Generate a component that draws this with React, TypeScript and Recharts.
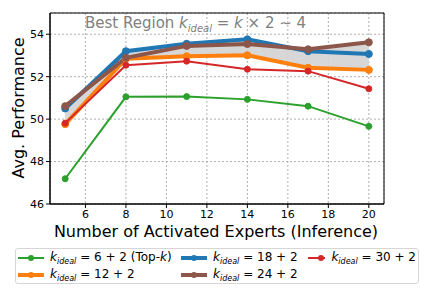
import {
  ComposedChart,
  Line,
  Area,
  XAxis,
  YAxis,
  CartesianGrid,
  Legend,
  ReferenceArea,
} from 'recharts'

const experts = [5, 8, 11, 14, 17, 20]
const k6 = [47.19, 51.05, 51.06, 50.93, 50.61, 49.66]
const k12 = [49.76, 52.85, 52.96, 53.01, 52.42, 52.32]
const k18 = [50.5, 53.2, 53.55, 53.76, 53.2, 53.07]
const k24 = [50.61, 52.89, 53.45, 53.54, 53.29, 53.62]
const k30 = [49.81, 52.54, 52.73, 52.35, 52.26, 51.43]

const xTicks = [6, 8, 10, 12, 14, 16, 18, 20]
const yTicks = [46, 48, 50, 52, 54]

const FONT = '"DejaVu Sans", sans-serif'

const SERIES = [
  { key: 'k6', label: '6 + 2 (Top-', topK: true, color: '#2ca02c', width: 2 },
  { key: 'k12', label: '12 + 2', topK: false, color: '#ff7f0e', width: 4 },
  { key: 'k18', label: '18 + 2', topK: false, color: '#1f77b4', width: 4 },
  { key: 'k24', label: '24 + 2', topK: false, color: '#8c564b', width: 4 },
  { key: 'k30', label: '30 + 2', topK: false, color: '#d62728', width: 2 },
]

const data = experts.map((x, i) => ({
  x,
  k6: k6[i],
  k12: k12[i],
  k18: k18[i],
  k24: k24[i],
  k30: k30[i],
  // shaded band spans the three larger configs
  band: [Math.min(k12[i], k18[i], k24[i]), Math.max(k12[i], k18[i], k24[i])],
}))

function Kideal() {
  return (
    <>
      <i>k</i>
      <sub style={{ fontSize: 8, fontStyle: 'italic', verticalAlign: '-3px' }}>ideal</sub>
      {' = '}
    </>
  )
}

function LegendBox() {
  // matplotlib fills the 3 columns column-wise
  const cols = [
    [SERIES[0], SERIES[1]],
    [SERIES[2], SERIES[3]],
    [SERIES[4]],
  ]
  const widths = [163, 127, 108]
  return (
    <div
      style={{
        boxSizing: 'border-box',
        width: 404,
        height: 36,
        border: '1px solid #d6d6d6',
        borderRadius: 3,
        display: 'flex',
        padding: '0 0 0 2px',
        fontFamily: FONT,
        fontSize: 12,
        color: '#000',
      }}
    >
      {cols.map((col, ci) => (
        <div key={ci} style={{ width: widths[ci] }}>
          {col.map((s) => (
            <div
              key={s.key}
              style={{ height: 17, display: 'flex', alignItems: 'center', whiteSpace: 'nowrap' }}
            >
              <svg width={26} height={10} style={{ marginRight: 6 }}>
                <line x1={0} y1={5} x2={26} y2={5} stroke={s.color} strokeWidth={s.width} />
                <circle cx={13} cy={5} r={3} fill={s.color} />
              </svg>
              <span>
                <Kideal />
                {s.label}
                {s.topK && (
                  <>
                    <i>k</i>)
                  </>
                )}
              </span>
            </div>
          ))}
        </div>
      ))}
    </div>
  )
}

export default function App() {
  return (
    <div style={{ position: 'absolute', left: 0, top: 0, background: '#fff' }}>
      <ComposedChart
        width={429}
        height={307}
        data={data}
        margin={{ top: 13, right: 45, bottom: 25, left: 0 }}
        style={{ fontFamily: FONT }}
      >
        <CartesianGrid stroke="#b0b0b0" strokeDasharray="2 2" />
        <XAxis
          dataKey="x"
          type="number"
          domain={[4.25, 20.75]}
          ticks={xTicks}
          allowDataOverflow
          height={42}
          tickSize={4}
          tickMargin={2}
          tick={{ fontSize: 11, fill: '#000' }}
          stroke="#000"
        />
        <YAxis
          type="number"
          domain={[46, 55]}
          ticks={yTicks}
          allowDataOverflow
          width={50}
          tickSize={4}
          tickMargin={2}
          tick={{ fontSize: 11, fill: '#000' }}
          stroke="#000"
        />
        <ReferenceArea
          x1={4.25}
          x2={20.75}
          y1={46}
          y2={55}
          fill="none"
          stroke="#000"
          strokeOpacity={1}
          ifOverflow="visible"
        />
        <Area
          dataKey="band"
          fill="#d3d3d3"
          fillOpacity={0.9}
          stroke="none"
          legendType="none"
          isAnimationActive={false}
        />
        {SERIES.map((s) => (
          <Line
            key={s.key}
            dataKey={s.key}
            stroke={s.color}
            strokeWidth={s.width}
            dot={{ r: s.width > 2 ? 3.5 : 3, fill: s.color, stroke: s.color, strokeWidth: 1 }}
            isAnimationActive={false}
          />
        ))}
        <Legend
          content={() => <LegendBox />}
          wrapperStyle={{ left: 15, top: 248, width: 404, height: 36 }}
        />
        <text x={85} y={28} fill="#808080" fontSize={15} fontFamily={FONT}>
          Best Region <tspan fontStyle="italic">k</tspan>
          <tspan fontStyle="italic" fontSize={10} dy={4}>ideal</tspan>
          <tspan dy={-4}> = </tspan>
          <tspan fontStyle="italic">k</tspan>
          <tspan> × 2 ∼ 4</tspan>
        </text>
        <text
          x={18}
          y={108}
          transform="rotate(-90 18 108)"
          textAnchor="middle"
          dominantBaseline="central"
          fontSize={16}
          fontFamily={FONT}
          fill="#000"
        >
          Avg. Performance
        </text>
        <text
          x={216}
          y={231}
          textAnchor="middle"
          dominantBaseline="central"
          fontSize={16}
          fontFamily={FONT}
          fill="#000"
        >
          Number of Activated Experts (Inference)
        </text>
      </ComposedChart>
    </div>
  )
}
